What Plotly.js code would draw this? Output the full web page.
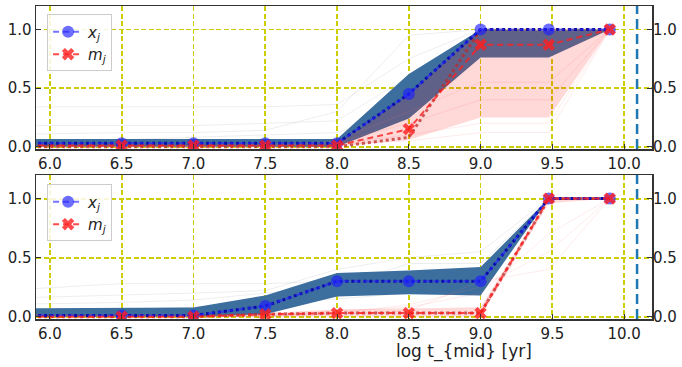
<!DOCTYPE html>
<html>
<head>
<meta charset="utf-8">
<script src="https://cdn.plot.ly/plotly-3.0.1.min.js"></script>
<style>html,body{margin:0;padding:0;background:#fff;}#plot{width:682px;height:367px;}</style>
</head>
<body>
<div id="plot"></div>
<script>
// ---- data ----
const tMid = [5.5, 6.5, 7.0, 7.5, 8.0, 8.5, 9.0, 9.475, 9.9];
const tUniverse = 10.09;

// top panel
const topX      = [0.03, 0.03, 0.03, 0.03, 0.03, 0.45, 1.00, 1.00, 1.00];
const topXLow   = [0.00, 0.00, 0.00, 0.00, 0.00, 0.24, 0.76, 0.76, 1.00];
const topXHigh  = [0.065,0.065,0.065,0.065,0.065,0.62, 1.00, 0.99, 1.00];
const topXTrue  = [0.03, 0.03, 0.03, 0.03, 0.03, 0.45, 1.00, 1.00, 1.00];
const topM      = [0.01, 0.01, 0.01, 0.01, 0.01, 0.15, 0.87, 0.87, 1.00];
const topMLow   = [0.00, 0.00, 0.00, 0.00, 0.00, 0.06, 0.25, 0.25, 1.00];
const topMHigh  = [0.02, 0.02, 0.02, 0.02, 0.02, 0.44, 1.00, 1.00, 1.00];
const topMTrue  = [0.00, 0.00, 0.00, 0.00, 0.00, 0.08, 1.00, 1.00, 1.00];
const topGreyRuns = [
  [0.18, 0.18, 0.18, 0.20, 0.22, 0.60, 1.00, 1.00, 1.00],
  [0.34, 0.34, 0.34, 0.34, 0.36, 0.75, 1.00, 1.00, 1.00],
  [0.10, 0.12, 0.12, 0.14, 0.30, 0.95, 1.00, 1.00, 1.00],
  [0.05, 0.06, 0.08, 0.10, 0.12, 0.35, 0.90, 0.95, 1.00]
];
const topPinkRuns = [
  [0.00, 0.00, 0.00, 0.00, 0.02, 0.05, 0.12, 0.12, 1.00],
  [0.00, 0.00, 0.00, 0.01, 0.03, 0.10, 0.20, 0.20, 1.00],
  [0.00, 0.00, 0.00, 0.00, 0.05, 0.30, 0.55, 0.55, 1.00],
  [0.00, 0.00, 0.01, 0.02, 0.04, 0.20, 0.40, 0.40, 1.00]
];

// bottom panel
const botX      = [0.01, 0.01, 0.01, 0.09, 0.30, 0.30, 0.30, 1.00, 1.00];
const botXLow   = [0.00, 0.00, 0.00, 0.02, 0.17, 0.19, 0.18, 1.00, 1.00];
const botXHigh  = [0.068,0.072,0.077,0.18, 0.37, 0.39, 0.42, 1.00, 1.00];
const botXTrue  = [0.01, 0.01, 0.01, 0.09, 0.30, 0.30, 0.30, 1.00, 1.00];
const botM      = [0.00, 0.00, 0.00, 0.02, 0.03, 0.03, 0.03, 1.00, 1.00];
const botMLow   = [0.00, 0.00, 0.00, 0.00, 0.00, 0.00, 0.00, 0.96, 1.00];
const botMHigh  = [0.02, 0.02, 0.02, 0.03, 0.06, 0.07, 0.08, 1.00, 1.00];
const botMTrue  = [0.00, 0.00, 0.00, 0.02, 0.03, 0.03, 0.03, 1.00, 1.00];
const botGreyRuns = [
  [0.21, 0.28, 0.28, 0.28, 0.30, 0.35, 0.40, 1.00, 1.00],
  [0.15, 0.18, 0.20, 0.22, 0.40, 0.50, 0.55, 1.00, 1.00],
  [0.10, 0.12, 0.14, 0.20, 0.25, 0.45, 0.45, 1.00, 1.00],
  [0.05, 0.06, 0.08, 0.12, 0.15, 0.20, 0.25, 1.00, 1.00]
];
const botPinkRuns = [
  [0.00, 0.00, 0.00, 0.00, 0.02, 0.05, 0.30, 0.40, 1.00],
  [0.00, 0.00, 0.00, 0.01, 0.03, 0.10, 0.25, 0.55, 1.00],
  [0.00, 0.00, 0.00, 0.00, 0.05, 0.08, 0.20, 0.70, 1.00]
];

const yTicks = [0, 0.5, 1.0];
const yTickText = ['0.0', '0.5', '1.0'];
const xLabel = 'log t_{mid} [yr]';
const legX = '<i>x</i><sub><i>j</i></sub>';
const legM = '<i>m</i><sub><i>j</i></sub>';

// ---- build ----
function band(x, lo, hi, color, xa, ya) {
  return {x: x.concat(x.slice().reverse()), y: hi.concat(lo.slice().reverse()),
    type: 'scatter', mode: 'lines', fill: 'toself', fillcolor: color,
    line: {width: 0}, hoverinfo: 'skip', showlegend: false, xaxis: xa, yaxis: ya};
}
function runs(list, color, xa, ya) {
  return list.map(r => ({x: tMid, y: r, type: 'scatter', mode: 'lines',
    line: {color: color, width: 1}, showlegend: false, xaxis: xa, yaxis: ya}));
}
function panel(xa, ya, leg, X, XL, XH, XT, M, ML, MH, MT, greys, pinks) {
  const out = [];
  out.push(...runs(greys, 'rgba(160,160,160,0.18)', xa, ya));
  out.push(band(tMid, XL, XH, 'rgb(60,110,158)', xa, ya));
  out.push(...runs(pinks, 'rgba(255,120,120,0.15)', xa, ya));
  out.push(band(tMid, ML, MH, 'rgba(255,40,40,0.18)', xa, ya));
  out.push({x: [tUniverse, tUniverse], y: [-0.02, 1.2], type: 'scatter', mode: 'lines',
    line: {color: '#1f77b4', width: 2.5, dash: '10px,5px'}, showlegend: false, xaxis: xa, yaxis: ya});
  out.push({x: tMid, y: MT, type: 'scatter', mode: 'lines',
    line: {color: 'rgba(190,40,40,0.75)', width: 3, dash: 'dot'}, showlegend: false, xaxis: xa, yaxis: ya});
  out.push({x: tMid, y: XT, type: 'scatter', mode: 'lines',
    line: {color: '#0a0aa8', width: 3, dash: 'dot'}, showlegend: false, xaxis: xa, yaxis: ya});
  out.push({x: tMid, y: X, type: 'scatter', mode: 'lines+markers', name: legX, legend: leg,
    line: {color: 'rgba(40,40,255,0.65)', width: 2, dash: '6px,4px'},
    marker: {symbol: 'circle', size: 12, color: 'rgba(30,30,255,0.65)'}, xaxis: xa, yaxis: ya});
  out.push({x: tMid, y: M, type: 'scatter', mode: 'lines+markers', name: legM, legend: leg,
    line: {color: 'rgba(255,30,30,0.8)', width: 2, dash: '6px,4px'},
    marker: {symbol: 'x', size: 11, color: 'rgba(255,30,30,0.8)'}, xaxis: xa, yaxis: ya});
  return out;
}

const traces = [].concat(
  panel('x', 'y', 'legend', topX, topXLow, topXHigh, topXTrue, topM, topMLow, topMHigh, topMTrue, topGreyRuns, topPinkRuns),
  panel('x2', 'y2', 'legend2', botX, botXLow, botXHigh, botXTrue, botM, botMLow, botMHigh, botMTrue, botGreyRuns, botPinkRuns)
);

const font = {family: 'DejaVu Sans, sans-serif', size: 15, color: '#222'};
const gridC = 'rgb(205,205,0)';
function xAxis(anchor) {
  return {anchor: anchor, domain: [0, 1], range: [5.903, 10.194], tick0: 6, dtick: 0.5, tickformat: '.1f',
    ticks: 'inside', ticklen: 5, tickcolor: '#333', showline: true, mirror: true, linecolor: '#333', linewidth: 1.5,
    showgrid: true, gridcolor: gridC, griddash: '5px,2.5px', gridwidth: 1.8, zeroline: false, tickfont: font};
}
function yAxis(domain, anchor) {
  return {anchor: anchor, domain: domain, range: [-0.02, 1.2], tickvals: yTicks, ticktext: yTickText,
    ticks: 'inside', ticklen: 5, tickcolor: '#333', showline: true, mirror: 'allticks', linecolor: '#333', linewidth: 1.5,
    showgrid: true, gridcolor: gridC, griddash: '5px,2.5px', gridwidth: 1.8, zeroline: false, tickfont: font};
}
function yRight(over) {
  return {overlaying: over, side: 'right', range: [-0.02, 1.2], tickvals: yTicks, ticktext: yTickText,
    ticks: '', showline: false, showgrid: false, zeroline: false, tickfont: font};
}
const legStyle = {font: {family: 'DejaVu Sans, sans-serif', size: 15, color: '#222'},
  bgcolor: 'rgba(255,255,255,0.85)', bordercolor: '#cccccc', borderwidth: 1,
  xref: 'paper', yref: 'paper', xanchor: 'left', yanchor: 'top', itemwidth: 30, tracegroupgap: 0};

const layout = {
  width: 682, height: 367, margin: {l: 36, r: 30, t: 6, b: 48},
  paper_bgcolor: '#fff', plot_bgcolor: '#fff', showlegend: true,
  xaxis: xAxis('y'), yaxis: yAxis([0.543, 1], 'x'),
  xaxis2: xAxis('y2'), yaxis2: yAxis([0, 0.46], 'x2'),
  yaxis3: yRight('y'), yaxis4: yRight('y2'),
  legend: Object.assign({x: 0.018, y: 0.973}, legStyle),
  legend2: Object.assign({x: 0.018, y: 0.43}, legStyle),
  annotations: [{text: xLabel, xref: 'paper', yref: 'paper', x: 0.694, y: -0.104,
    xanchor: 'center', yanchor: 'middle', showarrow: false,
    font: {family: 'DejaVu Sans, sans-serif', size: 17, color: '#222'}}]
};

// dummy traces so right axes render
traces.push({x: [null], y: [null], xaxis: 'x', yaxis: 'y3', showlegend: false, type: 'scatter'});
traces.push({x: [null], y: [null], xaxis: 'x2', yaxis: 'y4', showlegend: false, type: 'scatter'});

Plotly.newPlot('plot', traces, layout, {displayModeBar: false, staticPlot: true});
</script>
</body>
</html>
